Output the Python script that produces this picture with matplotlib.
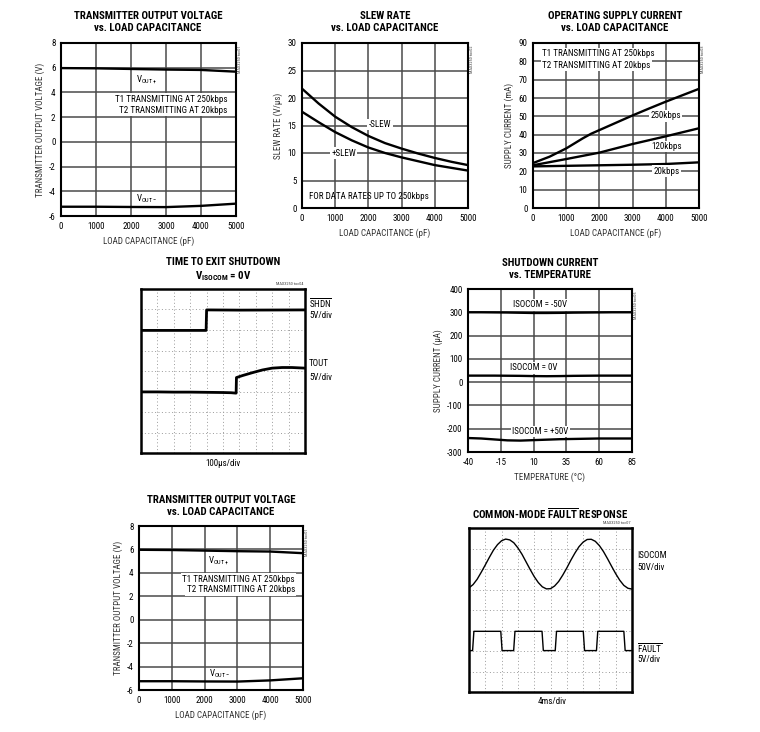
import matplotlib
matplotlib.use("Agg")
import matplotlib.pyplot as plt

plt.rcParams['font.family'] = ['Roboto Condensed', 'DejaVu Sans']
plt.rcParams['mathtext.fontset'] = 'custom'
plt.rcParams['mathtext.rm'] = 'Roboto Condensed'
plt.rcParams['mathtext.bf'] = 'Roboto Condensed:bold'
plt.rcParams['axes.unicode_minus'] = False

W, H = 760, 732

# ---- data ----
cap_pf = [0, 1000, 2000, 3000, 4000, 5000]
vout_pos = [5.97, 5.95, 5.9, 5.85, 5.82, 5.68]
vout_neg = [-5.25, -5.25, -5.27, -5.28, -5.18, -5.0]

slew_cap = [0, 500, 1000, 1500, 2000, 2500, 3000, 3500, 4000, 4500, 5000]
slew_neg = [21.7, 19.0, 16.6, 14.7, 13.1, 11.8, 10.8, 9.9, 9.1, 8.4, 7.8]
slew_pos = [17.5, 15.6, 13.8, 12.3, 11.0, 10.0, 9.2, 8.5, 7.8, 7.3, 6.8]

icc_cap = [0, 500, 1000, 1500, 1750, 2000, 2500, 3000, 3500, 4000, 4500, 5000]
icc_250 = [24.5, 28.0, 32.5, 38.0, 40.5, 42.5, 46.5, 50.5, 54.3, 58.0, 61.5, 65.0]
icc_120 = [23.3, 26.7, 30.2, 34.9, 39.1, 43.5]
icc_20 = [22.7, 23.0, 23.3, 23.6, 24.0, 24.9]

temp_c = [-40, -30, -20, -10, 0, 10, 20, 30, 40, 50, 60, 70, 85]
ishdn_m50 = [300, 300, 299.5, 299, 298, 297, 297, 297.5, 298.5, 299, 299.5, 300, 300]
ishdn_0 = [28, 28, 28, 27.5, 27, 26, 25.5, 26, 27, 27.5, 28, 28, 28]
ishdn_p50 = [-240, -242, -246, -250, -251, -249, -247, -245, -244, -243, -242, -242, -242]

# scope traces, in divisions (x 0..10, y 0..8 from bottom)
shdn_x = [0, 3.97, 4.0, 6.0, 10]
shdn_y = [5.98, 5.98, 6.98, 6.97, 6.98]
tout_x = [0, 1, 2, 3, 4, 5, 5.5, 5.8, 5.82, 6.2, 6.8, 7.4, 8.0, 8.6, 9.2, 10]
tout_y = [2.98, 2.98, 2.97, 2.97, 2.96, 2.95, 2.94, 2.92, 3.68, 3.78, 3.92, 4.05, 4.14, 4.17, 4.17, 4.14]

iso_x = [i * 0.25 for i in range(41)]
iso_y = [5.08, 5.24, 5.50, 5.84, 6.20, 6.57, 6.92, 7.19, 7.38, 7.46,
         7.42, 7.28, 7.03, 6.72, 6.35, 5.98, 5.63, 5.34, 5.13, 5.03,
         5.04, 5.17, 5.39, 5.70, 6.05, 6.43, 6.78, 7.09, 7.31, 7.44,
         7.45, 7.35, 7.14, 6.85, 6.50, 6.13, 5.77, 5.45, 5.20, 5.06, 5.02]
fault_x = [0, 0.22, 0.30, 1.95, 2.03, 2.74, 2.82, 4.48, 4.56, 5.29, 5.37,
           7.01, 7.09, 7.82, 7.90, 9.50, 9.58, 10]
fault_y = [2.02, 2.02, 2.96, 2.96, 2.02, 2.02, 2.96, 2.96, 2.02, 2.02, 2.96,
           2.96, 2.02, 2.02, 2.96, 2.96, 2.02, 2.02]

TICK = 6.5
LAB = 6.5
TTL = 7.8
GRID = '#4a4a4a'
LABC = '#333333'

fig = plt.figure(figsize=(W / 100, H / 100), dpi=100)


def px_axes(l, t, r, b):
    ax = fig.add_axes([l / W, 1 - b / H, (r - l) / W, (b - t) / H])
    for s in ax.spines.values():
        s.set_linewidth(1.5)
        s.set_color('black')
    return ax


def ftext(x, y, s, **kw):
    kw.setdefault('ha', 'center')
    kw.setdefault('va', 'center')
    return fig.text(x / W, 1 - y / H, s, **kw)


def graph(ax, xticks, yticks, xlabel, ylabel):
    ax.set_xlim(xticks[0], xticks[-1])
    ax.set_ylim(yticks[0], yticks[-1])
    ax.set_xticks(xticks)
    ax.set_yticks(yticks)
    ax.tick_params(length=0, pad=4, labelsize=TICK)
    ax.grid(True, color=GRID, lw=1.1)
    ax.set_axisbelow(True)
    ax.set_xlabel(xlabel, fontsize=LAB, color=LABC, labelpad=4)
    ax.set_ylabel(ylabel, fontsize=LAB, color=LABC, labelpad=3)


def scope(ax):
    ax.set_xlim(0, 10)
    ax.set_ylim(0, 8)
    ax.set_xticks(range(11))
    ax.set_yticks(range(9))
    ax.tick_params(length=0, labelbottom=False, labelleft=False)
    ax.grid(True, color='#9a9a9a', lw=0.7, linestyle=(0, (1, 2.5)))
    ax.set_axisbelow(True)
    for s in ax.spines.values():
        s.set_linewidth(1.8)


def toc(x, y, s, rot=90):
    ftext(x, y, s, fontsize=3.2, rotation=rot, color='#444444')


white = dict(facecolor='white', edgecolor='none', pad=1.0)


def vout_panel(l, t, r, b, tx, ty):
    ax = px_axes(l, t, r, b)
    graph(ax, cap_pf, [-6, -4, -2, 0, 2, 4, 6, 8],
          'LOAD CAPACITANCE (pF)', 'TRANSMITTER OUTPUT VOLTAGE (V)')
    ax.plot(cap_pf, vout_pos, color='black', lw=1.7)
    ax.plot(cap_pf, vout_neg, color='black', lw=1.7)
    ax.text(2450, 5.05, r'V$_{\rm OUT+}$', fontsize=TICK, ha='center', va='center')
    ax.text(2450, -4.6, r'V$_{\rm OUT-}$', fontsize=TICK, ha='center', va='center')
    ax.text(4750, 3.45, 'T1 TRANSMITTING AT 250kbps', fontsize=TICK, ha='right',
            va='center', bbox=white)
    ax.text(4750, 2.55, 'T2 TRANSMITTING AT 20kbps', fontsize=TICK, ha='right',
            va='center', bbox=white)
    ftext(tx, ty, 'TRANSMITTER OUTPUT VOLTAGE\nvs. LOAD CAPACITANCE',
          fontsize=TTL, fontweight='bold', linespacing=1.15)
    toc(r + 4, t + 16, 'MAX3250 toc01')
    return ax


# panel 1
vout_panel(61, 43, 236, 216, 148, 22)

# panel 2: slew rate
ax = px_axes(302, 43, 468, 208)
graph(ax, cap_pf, [0, 5, 10, 15, 20, 25, 30], 'LOAD CAPACITANCE (pF)', 'SLEW RATE (V/µs)')
ax.plot(slew_cap, slew_neg, color='black', lw=1.7)
ax.plot(slew_cap, slew_pos, color='black', lw=1.7)
ax.text(2350, 15.2, '-SLEW', fontsize=TICK, ha='center', va='center', bbox=white)
ax.text(1250, 10.0, '+SLEW', fontsize=TICK, ha='center', va='center', bbox=white)
ax.text(200, 2.1, 'FOR DATA RATES UP TO 250kbps', fontsize=TICK, ha='left', va='center')
ftext(385, 22, 'SLEW RATE\nvs. LOAD CAPACITANCE', fontsize=TTL, fontweight='bold',
      linespacing=1.15)
toc(472, 59, 'MAX3250 toc02')

# panel 3: operating supply current
ax = px_axes(533, 43, 699, 208)
graph(ax, cap_pf, list(range(0, 100, 10)), 'LOAD CAPACITANCE (pF)', 'SUPPLY CURRENT (mA)')
ax.plot(icc_cap, icc_250, color='black', lw=1.7)
ax.plot(cap_pf, icc_120, color='black', lw=1.7)
ax.plot(cap_pf, icc_20, color='black', lw=1.7)
ax.text(280, 84, 'T1 TRANSMITTING AT 250kbps', fontsize=TICK, ha='left', va='center',
        bbox=white)
ax.text(280, 77.8, 'T2 TRANSMITTING AT 20kbps', fontsize=TICK, ha='left', va='center',
        bbox=white)
ax.text(4000, 50.3, '250kbps', fontsize=TICK, ha='center', va='center', bbox=white)
ax.text(4020, 33.6, '120kbps', fontsize=TICK, ha='center', va='center', bbox=white)
ax.text(4020, 20.0, '20kbps', fontsize=TICK, ha='center', va='center', bbox=white)
ftext(615, 22, 'OPERATING SUPPLY CURRENT\nvs. LOAD CAPACITANCE', fontsize=TTL,
      fontweight='bold', linespacing=1.15)
toc(703, 59, 'MAX3250 toc03')

# panel 4: time to exit shutdown (scope)
ax = px_axes(141, 289, 305, 453)
scope(ax)
ax.plot(shdn_x, shdn_y, color='black', lw=2.0)
ax.plot(tout_x, tout_y, color='black', lw=2.0)
ftext(309, 303, r'$\overline{\rm SHDN}$', fontsize=TICK, ha='left')
ftext(309, 316, '5V/div', fontsize=TICK, ha='left')
ftext(309, 364, 'TOUT', fontsize=TICK, ha='left')
ftext(309, 377, '5V/div', fontsize=TICK, ha='left')
ftext(223, 463, '100µs/div', fontsize=TICK)
ftext(223, 262, 'TIME TO EXIT SHUTDOWN', fontsize=TTL, fontweight='bold')
ftext(223, 276, r'V$_{\bf ISOCOM}$ = 0V', fontsize=TTL, fontweight='bold')
toc(290, 284, 'MAX3250 toc04', rot=0)

# panel 5: shutdown current vs temperature
ax = px_axes(468, 289, 632, 452)
graph(ax, [-40, -15, 10, 35, 60, 85], list(range(-300, 500, 100)),
      'TEMPERATURE (°C)', 'SUPPLY CURRENT (µA)')
ax.plot(temp_c, ishdn_m50, color='black', lw=1.7)
ax.plot(temp_c, ishdn_0, color='black', lw=1.7)
ax.plot(temp_c, ishdn_p50, color='black', lw=1.7)
ax.text(15, 332, 'ISOCOM = -50V', fontsize=TICK, ha='center', va='center', bbox=white)
ax.text(10, 62, 'ISOCOM = 0V', fontsize=TICK, ha='center', va='center', bbox=white)
ax.text(15, -212, 'ISOCOM = +50V', fontsize=TICK, ha='center', va='center', bbox=white)
ftext(550, 269, 'SHUTDOWN CURRENT\nvs. TEMPERATURE', fontsize=TTL, fontweight='bold',
      linespacing=1.15)
toc(636, 305, 'MAX3250 toc05')

# panel 6: transmitter output voltage (repeat)
vout_panel(139, 526, 303, 690, 221, 506)

# panel 7: common-mode fault response (scope)
ax = px_axes(469, 528, 632, 692)
scope(ax)
ax.plot(iso_x, iso_y, color='black', lw=1.0)
ax.plot(fault_x, fault_y, color='black', lw=1.0)
ftext(637, 555, 'ISOCOM', fontsize=TICK, ha='left')
ftext(637, 567, '50V/div', fontsize=TICK, ha='left')
ftext(637, 648, r'$\overline{\rm FAULT}$', fontsize=TICK, ha='left')
ftext(637, 660, '5V/div', fontsize=TICK, ha='left')
ftext(552, 702, '4ms/div', fontsize=TICK)
ftext(550, 514, r'COMMON-MODE $\overline{\bf FAULT}$ RESPONSE', fontsize=TTL,
      fontweight='bold')
toc(617, 523, 'MAX3250 toc07', rot=0)

fig.savefig('out.png', dpi=100, facecolor='white')
